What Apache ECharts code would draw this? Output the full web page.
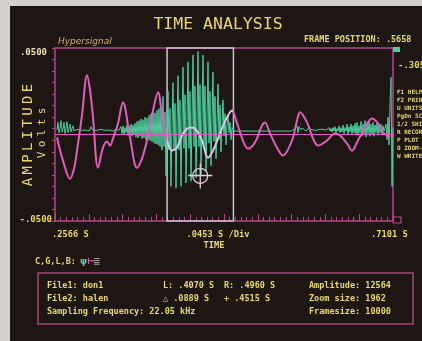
<!DOCTYPE html>
<html><head><meta charset="utf-8">
<script src="https://cdn.jsdelivr.net/npm/echarts@6/dist/echarts.min.js"></script>
<style>html,body{margin:0;padding:0;background:#1d1613;}#c{width:422px;height:341px;}</style>
</head><body><div id="c"></div>
<script>
// ---- axis ranges / labels ----
const timeStart = 0.2566, timeEnd = 0.7101;        // seconds
const ampMin = -50, ampMax = 50;                   // millivolts (.0500 V)
const xTickLabels = ['.2566 S', '.0453 S /Div', '.7101 S'];
const yTickLabels = ['.0500', '-.0500'];
const xAxisTitle = 'TIME';
const yAxisTitle = 'AMPLITUDE';
const yAxisUnit = 'Volts';
// ---- window / cursor ----
const windowL = 0.4070, windowR = 0.4960;
const cursorT = 0.4515, cursorV = -24;
// ---- file 2 (pink) : time (s) / amplitude (mV) ----
const pinkT = [0.2593,0.2673,0.2767,0.2821,0.2861,0.2928,0.2995,0.3036,0.3076,0.3143,
  0.3210,0.3264,0.3304,0.3344,0.3411,0.3478,0.3572,0.3666,0.3733,0.3800,
  0.3881,0.3948,0.4015,0.4069,0.4136,0.4203,0.4283,0.4377,0.4444,0.4538,
  0.4619,0.4686,0.4780,0.4874,0.4941,0.5008,0.5088,0.5155,0.5249,0.5343,
  0.5384,0.5451,0.5545,0.5625,0.5746,0.5813,0.5853,0.5947,0.6028,0.6095,
  0.6215,0.6323,0.6390,0.6484,0.6551,0.6631,0.6725,0.6819,0.6900,0.6967,
  0.7060];
const pinkV = [-1.7,-15.1,-25.6,-19.8,-9.3,11.0,34.3,25.6,9.9,-19.2,
  -7.6,-4.1,-6.4,-2.3,6.4,18.6,-1.7,-19.2,-13.9,-3.5,
  13.9,24.4,6.4,-3.5,-9.3,-7.6,0.6,4.1,3.5,-3.5,
  -13.4,-9.3,0.6,9.9,13.9,6.4,-3.5,-8.1,-4.6,5.2,
  7.0,0.6,-7.6,-12.2,-3.5,8.1,12.8,7.0,-2.3,-6.4,
  -3.5,0.6,-0.6,-5.2,-9.3,-3.5,4.1,9.3,6.4,1.2,
  -1.7];
// ---- file 1 (green) : regularly sampled amplitude (mV) ----
const greenStart = 0.2593, greenStep = 0.0013417;
const greenV = [
  2.5,7,1,3.5,8,1.5,3,7,0.5,3.5,7.5,1,3,6,1.5,3.5,5,2,3,
  2.5,3,2.5,2,2.5,3,2.5,2.5,2,3,
  2.5,2.5,3,2,2.5,4.5,3,2.5,2,2.5,
  3,2.5,2.5,2,2.5,3,2.5,2,2.5,3,
  2.5,2.5,2,3,2.5,2.5,3,2,2.5,2.5,
  3,2.5,2,2.5,3,
  4.5,0.5,5,0,4,1,5.5,-0.5,5,0.5,6,-1,5.5,0,6.5,
  -1.5,7.5,-2,8,-1,9,-2.5,8.5,-2,10,-3,9.5,-3,11,-3.5,
  12,-4,13,-5,12.5,-5.5,14,-6,15,-7,16,-9,
  22,-7,13,-24,4, 25,-9,15,-30,5, 30,-9,18,-31,6, 34,-9,20,-30,7,
  39,-8,23,-28,8, 42,-8,25,-27,8, 46,-7,28,-25,9, 48,-7,29,-23,10,
  46,-6,28,-21,9, 42,-5,25,-18,8, 36,-4,22,-14,7, 29,-3,17,-10,6,
  20,-1,12,-6,5, 11,1,7,-3,4,
  3,2,2.5,2,2,2.5,2,2,2.5,2,
  2,2.5,2,2,2.5,2,2,2.5,2,2,
  2.5,2,2,2.5,2,2,2.5,2,2,2.5,
  2,2,2.5,2,2,2.5,2,2,2.5,2,
  2,2.5,2,2,2.5,2,2,2.5,2,2,
  2.5,2,2,2.5,2,2,2.5,2,2,2.5,
  2,3,4,2,5,1,4.5,3,
  4,2,3.5,2.5,4,2,3,3.5,2.5,3,3,2.5,3.5,2.5,3,3,2.5,3.5,2,3,3.5,2.5,3,2,3.5,2.5,3,2,4,2,
  3.5,1.5,4,2,4.5,1,3.5,2,5,1,4,1.5,5.5,0.5,4,2,6,0,4.5,1.5,6,0.5,5,1,6.5,
  0,7,-0.5,5,1,7.5,-1,6,0,8,-1.5,6.5,0.5,7.5,-1,6,0,7,-1,5.5,1,6.5,-0.5,5,1,6,0,5,2,
  1,6,-3,10,-6,18,33,-30,4];
// ---- texts ----
const titleText = 'TIME ANALYSIS';
const brandText = 'Hypersignal';
const frameText = 'FRAME POSITION: .5658';
const cursorAmpText = '-.3052';
const menuItems = ['F1 HELP','F2 PRINT','U UNITS','PgDn SCALE','1/2 SHIFT','R RECORD','P PLOT','O ZOOM-OUT','W WRITE'];
const infoCol1 = ['File1: don1','File2: halen','Sampling Frequency: 22.05 kHz'];
const infoCol2 = ['L: .4070 S','\u25B3 .0889 S',''];
const infoCol3 = ['R: .4960 S','+ .4515 S',''];
const infoCol4 = ['Amplitude: 12564','Zoom size: 1962','Framesize: 10000'];

const MONO = "'DejaVu Sans Mono','Liberation Mono',monospace";
const YEL = '#e8d86c';
const PINK = '#e25cc0';
const PINK_LIGHT = '#dcc6ea';
const FRAME = '#b8468e';
const GREEN = '#4ccf9d';

function T(x, y, text, font, fill, align, extra) {
  return Object.assign({type:'text', x:x, y:y, z:100, silent:true,
    style:{text:text, font:font, fill:fill, align:align||'left', verticalAlign:'middle'}}, extra||{});
}

const graphics = [];
graphics.push({type:'rect', z:200, shape:{x:0,y:0,width:10,height:341}, style:{fill:'#d4d0cb'}, silent:true});
graphics.push({type:'rect', z:200, shape:{x:0,y:0,width:422,height:6}, style:{fill:'#d4d0cb'}, silent:true});
graphics.push(T(218, 25, titleText, '16.5px '+MONO, YEL, 'center'));
graphics.push(T(58, 42, brandText, 'italic 9px "DejaVu Sans"', '#dcae70', 'left'));
graphics.push(T(304, 40, frameText, 'bold 8.5px '+MONO, YEL, 'left'));
graphics.push(T(398, 66, cursorAmpText, 'bold 9px '+MONO, YEL, 'left'));
const menuY = [92,100,108,116,124,132,140,148,156];
menuItems.forEach((m,i)=>graphics.push(T(397, menuY[i], m, 'bold 6px '+MONO, YEL, 'left')));
yAxisTitle.split('').forEach((ch,i)=>graphics.push(T(28, 182 - i*11.75, ch, '14px '+MONO, YEL, 'center', {rotation:Math.PI/2})));
yAxisUnit.split('').forEach((ch,i)=>graphics.push(T(42, 155 - i*11, ch, '11px '+MONO, YEL, 'center', {rotation:Math.PI/2})));
graphics.push(T(47, 53, yTickLabels[0], 'bold 9px '+MONO, '#ece4b0', 'right'));
graphics.push(T(52, 220, yTickLabels[1], 'bold 9px '+MONO, YEL, 'right'));
graphics.push(T(52, 235, xTickLabels[0], 'bold 8.7px '+MONO, YEL, 'left'));
graphics.push(T(218, 235, xTickLabels[1], 'bold 8.7px '+MONO, YEL, 'center'));
graphics.push(T(371, 235, xTickLabels[2], 'bold 8.7px '+MONO, YEL, 'left'));
graphics.push(T(214, 246, xAxisTitle, 'bold 8.7px '+MONO, YEL, 'center'));
graphics.push({type:'rect', z:100, shape:{x:393,y:47,width:7,height:5}, style:{fill:GREEN}, silent:true});
graphics.push({type:'rect', z:100, shape:{x:393,y:217,width:8,height:6}, style:{fill:'none', stroke:FRAME, lineWidth:1.2}, silent:true});
graphics.push(T(35, 262, 'C,G,L,B:', 'bold 8.5px '+MONO, YEL, 'left'));
graphics.push(T(80, 262, '\u03C8', 'bold 9px "DejaVu Sans"', GREEN, 'left'));
graphics.push(T(87, 262, '\u22A2', 'bold 9px "DejaVu Sans"', PINK, 'left'));
graphics.push(T(93, 262, '\u2263', 'bold 9px "DejaVu Sans"', '#a0a090', 'left'));
graphics.push({type:'rect', z:100, shape:{x:38,y:273,width:375,height:51}, style:{fill:'none', stroke:'#a8447c', lineWidth:1.5}, silent:true});
const infoY = [286, 299, 312];
infoY.forEach((y,i)=>{
  graphics.push(T(47, y, infoCol1[i], 'bold 8.5px '+MONO, YEL, 'left'));
  graphics.push(T(163, y, infoCol2[i], 'bold 8.5px '+MONO, YEL, 'left'));
  graphics.push(T(224, y, infoCol3[i], 'bold 8.5px '+MONO, YEL, 'left'));
  graphics.push(T(309, y, infoCol4[i], 'bold 8.5px '+MONO, YEL, 'left'));
});

const chart = echarts.init(document.getElementById('c'), null, {renderer:'canvas'});
chart.setOption({
  backgroundColor: '#1d1613',
  animation: false,
  grid: {left:55, right:29, top:48, bottom:120, show:true, borderColor:FRAME, borderWidth:1.5, backgroundColor:'transparent'},
  xAxis: [
    {type:'value', min:timeStart, max:timeEnd, axisLine:{show:false, onZero:false}, axisTick:{show:false}, axisLabel:{show:false}, splitLine:{show:false}},
    {type:'value', min:0, max:10, interval:1, position:'bottom', axisLine:{show:false, onZero:false},
      axisTick:{show:true, inside:true, length:7, lineStyle:{color:FRAME, width:1}},
      minorTick:{show:true, splitNumber:6, length:4, lineStyle:{color:FRAME, width:1}},
      axisLabel:{show:false}, splitLine:{show:false}}
  ],
  yAxis: [
    {type:'value', min:ampMin, max:ampMax, axisLine:{show:false, onZero:false}, axisTick:{show:false}, axisLabel:{show:false}, splitLine:{show:false}},
    {type:'value', min:0, max:15, interval:1, position:'left', axisLine:{show:false, onZero:false},
      axisTick:{show:true, length:3, lineStyle:{color:FRAME}}, axisLabel:{show:false}, splitLine:{show:false}}
  ],
  visualMap: {type:'piecewise', show:false, dimension:0, seriesIndex:1,
    pieces:[{gte:windowL, lte:windowR, color:PINK_LIGHT}], outOfRange:{color:PINK}},
  graphic: graphics,
  series: [
    {type:'line', xAxisIndex:0, yAxisIndex:0, symbol:'none', silent:true,
      data: greenV.map((v,i)=>[greenStart + i*greenStep, v]),
      lineStyle:{color:GREEN, width:1}},
    {type:'line', xAxisIndex:0, yAxisIndex:0, symbol:'none', silent:true, smooth:0.35,
      data: pinkT.map((t,i)=>[t, pinkV[i]]),
      lineStyle:{width:2},
      markLine:{silent:true, symbol:['none','none'], label:{show:false},
        lineStyle:{color:PINK, width:1, type:'solid'}, data:[{yAxis:0}]},
      markArea:{silent:true, itemStyle:{color:'rgba(0,0,0,0)', borderColor:'#cdbfdc', borderWidth:1.5},
        data:[[{xAxis:windowL},{xAxis:windowR}]]}},
    {type:'scatter', xAxisIndex:0, yAxisIndex:0, silent:true,
      symbol:'path://M0,12L24,12M12,0L12,25M19.5,12A7.5,7.5,0,1,1,19.49,11.8',
      symbolSize:[24,25],
      itemStyle:{color:'rgba(0,0,0,0)', borderColor:'#e2d2dc', borderWidth:1.3, opacity:1},
      data:[[cursorT, cursorV]], z:5}
  ]
});
</script>
</body></html>
